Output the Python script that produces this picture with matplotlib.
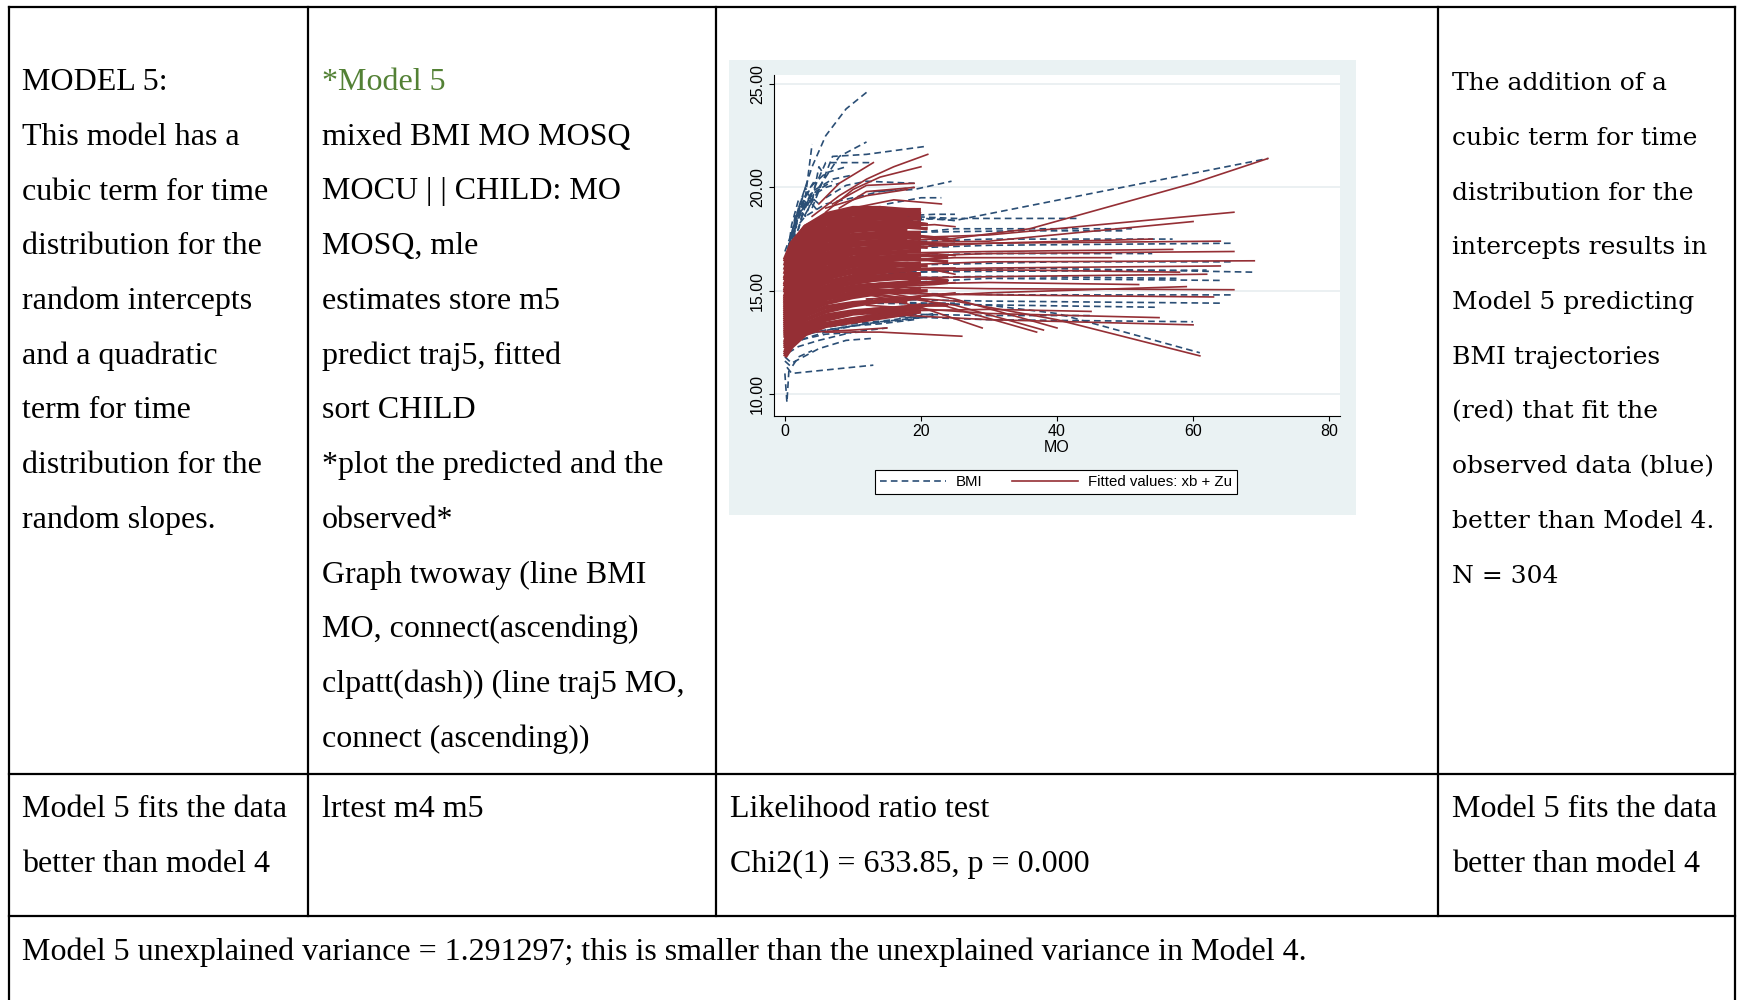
import matplotlib
matplotlib.use("Agg")
import matplotlib.pyplot as plt
from matplotlib.lines import Line2D
from matplotlib.patches import Rectangle

# ---------------- table text ----------------
COL1_TOP = ["MODEL 5:", "This model has a", "cubic term for time", "distribution for the",
            "random intercepts", "and a quadratic", "term for time", "distribution for the",
            "random slopes."]
COL2_TOP = ["*Model 5", "mixed BMI MO MOSQ", "MOCU | | CHILD: MO", "MOSQ, mle",
            "estimates store m5", "predict traj5, fitted", "sort CHILD",
            "*plot the predicted and the", "observed*", "Graph twoway (line BMI",
            "MO, connect(ascending)", "clpatt(dash)) (line traj5 MO,", "connect (ascending))"]
COL4_TOP = ["The addition of a", "cubic term for time", "distribution for the",
            "intercepts results in", "Model 5 predicting", "BMI trajectories",
            "(red) that fit the", "observed data (blue)", "better than Model 4.", "N = 304"]
COL1_MID = ["Model 5 fits the data", "better than model 4"]
COL2_MID = ["lrtest m4 m5"]
COL3_MID = ["Likelihood ratio test", "Chi2(1) = 633.85, p = 0.000"]
COL4_MID = ["Model 5 fits the data", "better than model 4"]
BOTTOM = "Model 5 unexplained variance = 1.291297; this is smaller than the unexplained variance in Model 4."

# ---------------- chart data ----------------
X_TICKS = [0, 20, 40, 60, 80]
Y_TICKS = [10, 15, 20, 25]
Y_TICK_LABELS = ["10.00", "15.00", "20.00", "25.00"]
X_LABEL = "MO"
LEGEND_LABELS = ["BMI", "Fitted values: xb + Zu"]

# dense block of fitted trajectories (MO 0-20)
MO_DENSE = [0, 1, 3, 6, 10, 14, 18, 20]
FIT_DENSE = [
    [11.8, 12.3, 12.9, 13.3, 13.5, 13.7, 13.9, 14.0],
    [11.9, 12.5, 13.1, 13.4, 13.6, 13.8, 14.1],
    [12.0, 12.6, 13.2, 13.6, 13.9, 14.0, 14.2, 14.3],
    [12.2, 12.8, 13.4, 13.8, 14.0, 14.1, 14.1, 14.2],
    [12.3, 12.9, 13.6, 14.0, 14.3, 14.5, 14.6, 14.7],
    [12.4, 13.1, 13.8, 14.2, 14.4, 14.5, 14.5],
    [12.5, 13.2, 14.0, 14.4, 14.7, 14.9, 15.0, 15.1],
    [12.7, 13.3, 14.1, 14.6, 14.9, 15.0, 15.0, 15.0],
    [12.8, 13.5, 14.3, 14.8, 15.1, 15.3, 15.4, 15.5],
    [12.9, 13.6, 14.4, 14.9, 15.2, 15.3, 15.3],
    [13.0, 13.8, 14.6, 15.1, 15.4, 15.6, 15.7, 15.8],
    [13.1, 13.8, 14.7, 15.2, 15.6, 15.7, 15.8, 15.8],
    [13.2, 14.0, 14.9, 15.4, 15.7, 15.9, 16.0, 16.1],
    [13.3, 14.1, 15.0, 15.6, 15.9, 16.0, 16.0],
    [13.4, 14.2, 15.1, 15.7, 16.0, 16.2, 16.3, 16.3],
    [13.5, 14.3, 15.3, 15.9, 16.2, 16.3, 16.3, 16.2],
    [13.6, 14.5, 15.4, 16.0, 16.3, 16.5, 16.6, 16.6],
    [13.7, 14.5, 15.5, 16.1, 16.5, 16.6, 16.6, 16.5],
    [13.8, 14.7, 15.7, 16.3, 16.6, 16.8, 16.9, 16.9],
    [13.9, 14.8, 15.8, 16.4, 16.8, 16.9, 16.8],
    [14.0, 14.9, 15.9, 16.6, 16.9, 17.0, 17.1, 17.1],
    [14.1, 15.0, 16.0, 16.7, 17.0, 17.1, 17.1, 17.0],
    [14.2, 15.1, 16.2, 16.8, 17.2, 17.3, 17.3, 17.3],
    [14.3, 15.2, 16.3, 17.0, 17.3, 17.4, 17.4],
    [14.4, 15.4, 16.4, 17.1, 17.5, 17.6, 17.6, 17.6],
    [14.5, 15.5, 16.5, 17.2, 17.6, 17.7, 17.6, 17.5],
    [14.6, 15.6, 16.7, 17.4, 17.7, 17.8, 17.8, 17.8],
    [14.7, 15.7, 16.8, 17.5, 17.9, 18.0, 17.9],
    [14.9, 15.9, 17.0, 17.6, 18.0, 18.1, 18.1, 18.1],
    [15.0, 16.0, 17.1, 17.8, 18.1, 18.2, 18.2, 18.1],
    [15.2, 16.2, 17.3, 17.9, 18.3, 18.3, 18.3, 18.3],
    [15.3, 16.3, 17.4, 18.0, 18.4, 18.5, 18.4],
    [15.5, 16.5, 17.6, 18.2, 18.5, 18.6, 18.5, 18.5],
    [15.6, 16.6, 17.7, 18.3, 18.7, 18.7, 18.6],
    [15.8, 16.8, 17.8, 18.4, 18.8, 18.8, 18.7, 18.6],
    [16.0, 16.9, 17.9, 18.5, 18.9, 18.9, 18.8],
    [16.2, 17.0, 18.0, 18.6, 18.9, 19.0, 18.9, 18.9],
    [16.4, 17.2, 18.1, 18.6, 18.9, 18.9],
    [16.5, 17.3, 18.1, 18.7, 19.0, 19.0, 18.8, 18.7],
]

# second dense group, measured on a slightly different visit grid
MO_DENSE2 = [0, 2, 5, 9, 13, 17, 21, 24]
FIT_DENSE2 = [
    [12.1, 13.0, 13.6, 13.9, 14.1, 14.2, 14.3, 14.3],
    [12.6, 13.6, 14.3, 14.7, 14.9, 15.0, 15.0],
    [13.0, 14.1, 14.9, 15.3, 15.5, 15.6, 15.6, 15.5],
    [13.4, 14.6, 15.4, 15.9, 16.1, 16.2, 16.2],
    [13.8, 15.0, 15.9, 16.4, 16.6, 16.7, 16.7, 16.6],
    [14.2, 15.5, 16.4, 16.9, 17.1, 17.2, 17.1],
    [14.6, 15.9, 16.9, 17.4, 17.6, 17.7, 17.6, 17.5],
    [15.1, 16.4, 17.4, 17.9, 18.1, 18.1, 18.0],
    [15.6, 16.9, 17.8, 18.3, 18.5, 18.4, 18.2],
    [11.9, 12.8, 13.3, 13.6, 13.8, 13.9],
    [16.3, 17.5, 18.3, 18.8, 18.9, 18.7],
    [12.9, 13.9, 14.6, 15.0, 15.2, 15.3, 15.4, 15.4],
    [13.6, 14.8, 15.6, 16.1, 16.4, 16.5, 16.5, 16.4],
    [14.4, 15.7, 16.6, 17.1, 17.4, 17.4, 17.3, 17.2],
    [15.3, 16.6, 17.6, 18.1, 18.3, 18.3, 18.2],
]

# observed (dashed) trajectories visible around the dense block
OBS_EDGE_MO = [
    [0, 2, 4, 6, 9, 12],
    [1.5, 3, 4],
    [4, 7, 12, 21],
    [3, 6, 13],
    [5, 8, 12],
    [0.5, 1, 2, 3, 4, 5],
    [0.5, 1.5, 2.5, 3.5, 5],
    [1, 2, 3, 4, 6, 8],
    [6, 9, 12, 19],
    [13, 19, 24.5],
    [15, 20, 23],
    [2, 4, 7, 10],
    [0, 1, 3, 6, 10, 14, 19],
    [0, 1, 2, 3, 4],
    [0.5, 1.5, 2.5, 3.5, 4.5, 6],
    [1, 2, 3, 5, 7],
    [0, 1.5, 3, 4.5],
    [2, 3, 4, 5, 6],
    [1, 2.5, 4, 6, 9],
    [0.5, 1, 2, 3],
    [0.3, 1, 13],
    [0, 0.3, 0.6],
    [0, 1, 5, 9, 13],
    [0.5, 2, 5, 10, 15],
    [1, 3, 6, 10, 14, 19],
    [0, 1, 2, 4],
    [2, 6, 12, 18, 22],
    [0, 2, 6, 11],
    [3, 8, 14, 20],
    [5, 10, 16, 22],
    [10, 16, 22, 25],
    [10, 16, 22, 25],
    [10, 16, 22, 25],
    [10, 16, 22, 25],
]
OBS_EDGE_BMI = [
    [16.5, 19.0, 21.0, 22.5, 23.8, 24.6],
    [18.0, 19.5, 22.1],
    [19.0, 21.5, 21.6, 22.0],
    [19.0, 21.2, 21.2],
    [20.0, 21.5, 22.2],
    [17.0, 18.2, 19.4, 19.0, 19.5, 19.2],
    [16.8, 18.6, 18.9, 19.4, 18.8],
    [17.5, 18.0, 19.3, 19.6, 20.0, 20.2],
    [19.5, 20.1, 20.3, 20.2],
    [19.8, 19.9, 20.3],
    [19.2, 19.5, 19.5],
    [18.5, 19.8, 20.4, 20.6],
    [16.9, 17.8, 18.6, 19.2, 19.5, 19.8, 20.0],
    [16.2, 17.8, 19.0, 18.6, 19.4],
    [16.6, 17.9, 19.5, 19.1, 19.8, 20.1],
    [17.2, 18.9, 18.7, 19.9, 20.3],
    [16.0, 18.3, 19.6, 20.4],
    [18.8, 20.0, 19.3, 21.0, 20.5],
    [17.6, 19.2, 20.1, 20.7, 21.0],
    [16.4, 17.3, 18.0, 19.1],
    [11.3, 11.0, 11.4],
    [11.0, 9.6, 11.2],
    [11.8, 11.5, 12.2, 12.6, 12.7],
    [12.0, 12.3, 12.6, 13.0, 13.2],
    [12.4, 12.7, 13.0, 13.3, 13.4, 13.6],
    [11.6, 11.3, 11.8, 12.1],
    [12.8, 13.1, 13.4, 13.6, 13.8],
    [12.0, 12.6, 12.9, 13.0],
    [12.9, 13.2, 13.5, 13.7],
    [13.2, 13.4, 13.6, 13.9],
    [18.4, 18.6, 18.7, 18.7],
    [18.0, 18.3, 18.5, 18.4],
    [14.0, 14.2, 14.4, 14.4],
    [16.8, 17.0, 17.2, 17.3],
]

# fitted (solid) trajectories sticking out of the dense block
FIT_EDGE_MO = [
    [4, 8, 12, 16, 21],
    [5, 8, 13],
    [6, 10, 14, 20],
    [7, 12, 19],
    [8, 12, 19],
    [10, 16, 23],
    [6, 12, 18],
    [6, 14, 26],
    [4, 10, 15],
    [10, 16, 22, 25],
    [10, 16, 22, 25],
    [10, 16, 22, 25],
    [10, 16, 22, 25],
    [10, 16, 22, 25],
    [10, 16, 22, 25],
    [10, 16, 22, 25],
    [10, 16, 22, 25],
]
FIT_EDGE_BMI = [
    [18.6, 19.6, 20.4, 21.0, 21.6],
    [19.2, 20.2, 21.2],
    [18.8, 19.9, 20.5, 21.0],
    [19.2, 20.1, 20.2],
    [19.0, 19.8, 20.0],
    [19.0, 19.4, 19.2],
    [19.0, 19.6, 19.9],
    [13.0, 13.0, 12.8],
    [13.0, 13.1, 13.2],
    [15.0, 15.2, 15.3, 15.4],
    [15.8, 16.0, 16.1, 16.1],
    [16.5, 16.7, 16.8, 16.7],
    [17.2, 17.4, 17.5, 17.4],
    [17.9, 18.1, 18.2, 18.1],
    [14.4, 14.6, 14.8, 14.9],
    [16.2, 16.2, 16.0, 15.8],
    [17.5, 17.6, 17.6, 17.5],
]

# children followed up beyond 20 months: observed
OBS_LONG_MO = [
    [16, 25, 71], [18, 25, 43], [12, 25, 51], [12, 30, 66], [12, 35, 69],
    [12, 30, 64], [12, 30, 64], [12, 35, 66], [12, 30, 60], [12, 30, 40, 61],
    [12, 40, 66], [12, 62], [12, 55], [12, 30, 57], [12, 34, 50], [12, 30, 58],
    [12, 28, 54], [12, 30, 45],
]
OBS_LONG_BMI = [
    [18.6, 18.4, 21.4], [18.6, 18.5, 18.5], [17.6, 18.0, 18.0], [17.0, 17.2, 17.3], [15.8, 16.1, 15.9],
    [15.3, 15.6, 15.5], [14.6, 14.5, 14.4], [14.9, 14.8, 14.8], [13.8, 13.6, 13.5], [14.5, 14.3, 13.9, 12.0],
    [16.2, 16.4, 16.4], [15.9, 16.0], [14.4, 14.2], [17.3, 17.5, 17.5], [17.8, 17.9, 17.9], [15.6, 15.7, 15.6],
    [16.6, 16.8, 16.8], [13.9, 13.8, 13.8],
]

# children followed up beyond 20 months: fitted
FIT_LONG_MO = [
    [12, 24, 36, 48, 60, 71], [12, 30, 66], [12, 30, 60], [12, 30, 64], [12, 30, 66],
    [12, 30, 69], [12, 30, 66], [12, 30, 63], [12, 30, 60], [12, 25, 40, 61],
    [12, 30, 55], [10, 20, 29], [10, 20, 37], [10, 25, 40], [10, 25, 38],
    [12, 35, 58], [12, 35, 62], [12, 30, 54], [12, 30, 57], [12, 30, 52],
    [12, 30, 59], [12, 25, 48], [12, 30, 64], [12, 30, 45],
]
FIT_LONG_BMI = [
    [17.8, 17.5, 18.0, 19.1, 20.2, 21.4], [17.5, 17.7, 18.8], [17.3, 17.4, 18.35], [17.2, 17.3, 17.4], [16.6, 16.8, 16.9],
    [16.2, 16.4, 16.45], [15.2, 15.1, 15.05], [14.9, 14.8, 14.7], [13.9, 13.6, 13.35], [14.8, 14.5, 13.6, 11.85],
    [14.3, 13.9, 13.7], [15.0, 14.2, 13.2], [15.2, 14.6, 13.0], [15.5, 14.6, 13.2], [15.0, 14.3, 13.1],
    [16.0, 16.0, 15.9], [15.6, 15.7, 15.8], [17.0, 17.3, 17.5], [16.8, 16.9, 17.0], [15.3, 15.4, 15.3],
    [14.6, 14.9, 15.2], [16.4, 16.6, 16.6], [16.0, 16.1, 16.2], [14.0, 14.1, 14.0],
]

# ---------------- figure ----------------
W, H = 1741, 1000
fig = plt.figure(figsize=(W / 100, H / 100), dpi=100)
fig.patch.set_facecolor("white")


def fx(x):
    return x / W


def fy(y):
    return 1 - y / H


# table grid
LW_T = 1.6
for x, y0, y1 in [(9, 7, 1000), (1735, 7, 1000), (308, 7, 916), (716, 7, 916), (1438, 7, 916)]:
    fig.add_artist(Line2D([fx(x), fx(x)], [fy(y0), fy(y1)], color="black", lw=LW_T,
                          transform=fig.transFigure))
for y in [7, 774, 916]:
    fig.add_artist(Line2D([fx(9), fx(1735)], [fy(y), fy(y)], color="black", lw=LW_T,
                          transform=fig.transFigure))

SERIF = "Liberation Serif"
FS = 23
LINE = 54.75


def put_lines(lines, x, y0, family=SERIF, size=FS, first_color=None):
    for k, s in enumerate(lines):
        c = first_color if (k == 0 and first_color) else "black"
        fig.text(fx(x), fy(y0 + LINE * k), s, fontsize=size, family=family,
                 color=c, ha="left", va="baseline")


put_lines(COL1_TOP, 22, 90)
put_lines(COL2_TOP, 322, 90, first_color="#538135")
put_lines(COL4_TOP, 1452, 90, family="DejaVu Serif", size=18)
put_lines(COL1_MID, 22, 817)
put_lines(COL2_MID, 322, 817)
put_lines(COL3_MID, 730, 817)
put_lines(COL4_MID, 1452, 817)
put_lines([BOTTOM], 22, 960)

# chart graph region
fig.add_artist(Rectangle((fx(729), fy(515)), (1356 - 729) / W, (515 - 60) / H,
                         transform=fig.transFigure, facecolor="#eaf2f3", edgecolor="none",
                         zorder=0))

ax = fig.add_axes([fx(774), fy(416), (1340 - 774) / W, (416 - 75) / H])
ax.set_facecolor("white")
ax.set_xlim(-1.6, 81.6)
ax.set_ylim(8.94, 25.44)

BLUE = "#2a4e75"
RED = "#952f35"
DASH = (0, (4, 2.5))

for mo, b in zip(OBS_EDGE_MO, OBS_EDGE_BMI):
    ax.plot(mo, b, color=BLUE, lw=1.2, ls=DASH, zorder=2)
for mo, b in zip(OBS_LONG_MO, OBS_LONG_BMI):
    ax.plot(mo, b, color=BLUE, lw=1.2, ls=DASH, zorder=2)

for row in FIT_DENSE:
    ax.plot(MO_DENSE[:len(row)], row, color=RED, lw=3.2, zorder=3,
            solid_capstyle="butt")
for row in FIT_DENSE2:
    ax.plot(MO_DENSE2[:len(row)], row, color=RED, lw=2.4, zorder=3,
            solid_capstyle="butt")
for mo, b in zip(FIT_EDGE_MO, FIT_EDGE_BMI):
    ax.plot(mo, b, color=RED, lw=1.2, zorder=3)
for mo, b in zip(FIT_LONG_MO, FIT_LONG_BMI):
    ax.plot(mo, b, color=RED, lw=1.2, zorder=3)

SANS = "Liberation Sans"
ax.set_xticks(X_TICKS)
ax.set_xticklabels([str(v) for v in X_TICKS], family=SANS, fontsize=11.5)
ax.set_yticks(Y_TICKS)
ax.set_yticklabels(Y_TICK_LABELS, family=SANS, fontsize=11.5, rotation=90, va="center")
ax.tick_params(axis="x", length=3.6, width=0.8, pad=2.0, color="black")
ax.tick_params(axis="y", length=3.6, width=0.8, pad=3.0, color="black")
ax.yaxis.grid(True, color="#e8eef0", lw=1.2)
ax.set_axisbelow(True)
for s in ["top", "right"]:
    ax.spines[s].set_visible(False)
for s in ["left", "bottom"]:
    ax.spines[s].set_linewidth(0.8)
ax.set_xlabel(X_LABEL, family=SANS, fontsize=11.5)
ax.xaxis.set_label_coords(0.5, (416 - 448) / (416 - 75))
ax.xaxis.label.set_va("center")

handles = [Line2D([], [], color=BLUE, lw=1.2, ls=DASH), Line2D([], [], color=RED, lw=1.2)]
leg = fig.legend(handles, LEGEND_LABELS, loc="center", bbox_to_anchor=(fx(1056), fy(482)),
                 ncol=2, frameon=True, fancybox=False, edgecolor="black", framealpha=1,
                 prop={"family": SANS, "size": 10.8}, handlelength=4.4, columnspacing=2.0,
                 borderpad=0.35, handletextpad=0.65)
leg.get_frame().set_linewidth(0.8)

fig.savefig("out.png", dpi=100)
